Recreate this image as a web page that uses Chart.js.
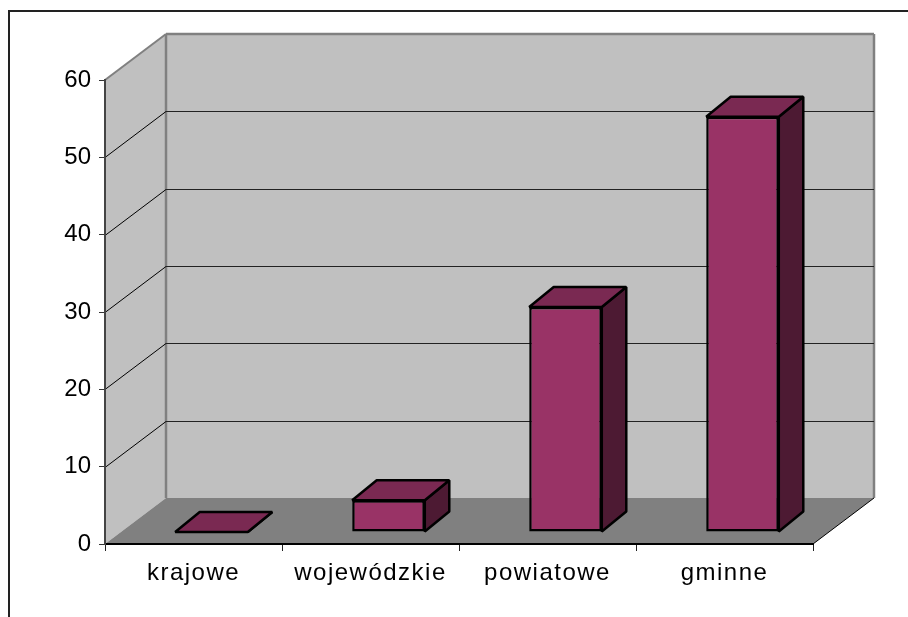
<!DOCTYPE html>
<html>
<head>
<meta charset="utf-8">
<script src="https://cdn.jsdelivr.net/npm/chart.js@4"></script>
<style>
html, body { margin: 0; padding: 0; background: #fff; }
#wrap { width: 908px; height: 617px; position: relative; }
</style>
</head>
<body>
<div id="wrap"><canvas id="barChart"></canvas></div>
<script>
const categories = ['krajowe', 'wojewódzkie', 'powiatowe', 'gminne'];
const values = [0, 4.1, 29.1, 53.7];
const tickLabels = [0, 10, 20, 30, 40, 50, 60];

const wallDepth = { x: 61, y: -46 };
const barShift = { x: 18, y: -12 };
const barDepth = { x: 24.5, y: -20 };

function fillPoly(ctx, pts, fill, stroke, lineWidth) {
    ctx.beginPath();
    ctx.moveTo(pts[0][0], pts[0][1]);
    for (let i = 1; i < pts.length; i++) ctx.lineTo(pts[i][0], pts[i][1]);
    ctx.closePath();
    if (fill) { ctx.fillStyle = fill; ctx.fill(); }
    if (stroke) { ctx.strokeStyle = stroke; ctx.lineWidth = lineWidth; ctx.lineJoin = 'bevel'; ctx.stroke(); }
}

function line(ctx, x1, y1, x2, y2, color, width) {
    ctx.beginPath();
    ctx.moveTo(x1, y1);
    ctx.lineTo(x2, y2);
    ctx.strokeStyle = color;
    ctx.lineWidth = width;
    ctx.stroke();
}

// back wall, side wall, floor and the outer frame
const box3d = {
    id: 'box3d',
    afterLayout(chart) {
        // x labels are spaced out in the original, the y labels are not
        const s = chart.scales.x;
        if (s.spaced) return;
        s.spaced = true;
        const drawLabels = s.drawLabels;
        s.drawLabels = function (area) {
            chart.ctx.save();
            chart.ctx.letterSpacing = '1.5px';
            drawLabels.call(s, area);
            chart.ctx.restore();
        };
    },
    beforeDraw(chart) {
        const ctx = chart.ctx;
        const a = chart.chartArea;
        const y = chart.scales.y;
        const dx = wallDepth.x, dy = wallDepth.y;
        ctx.save();
        ctx.fillStyle = '#ffffff';
        ctx.fillRect(0, 0, chart.width, chart.height);
        ctx.strokeStyle = '#222222';
        ctx.lineWidth = 2;
        ctx.beginPath();
        ctx.moveTo(9, 617);
        ctx.lineTo(9, 11);
        ctx.lineTo(908, 11);
        ctx.stroke();

        fillPoly(ctx, [[a.left, a.top], [a.left + dx, a.top + dy], [a.right + dx, a.top + dy], [a.right + dx, a.bottom + dy], [a.left + dx, a.bottom + dy], [a.left, a.bottom]], '#c0c0c0');
        fillPoly(ctx, [[a.left, a.bottom], [a.right, a.bottom], [a.right + dx, a.bottom + dy], [a.left + dx, a.bottom + dy]], '#808080');

        line(ctx, a.left, a.top, a.left + dx, a.top + dy, '#808080', 2);
        line(ctx, a.left + dx, a.top + dy, a.right + dx, a.top + dy, '#808080', 2.5);
        line(ctx, a.left + dx, a.top + dy, a.left + dx, a.bottom + dy, '#808080', 2.5);
        line(ctx, a.right + dx, a.top + dy, a.right + dx, a.bottom + dy, '#808080', 2.5);

        tickLabels.forEach(function (v) {
            if (v === 0 || v === 60) return;
            const py = Math.round(y.getPixelForValue(v)) + 0.5;
            line(ctx, a.left, py, a.left + dx, py + dy, '#000000', 1);
            line(ctx, a.left + dx, py + dy, a.right + dx, py + dy, '#222222', 1);
        });
        line(ctx, a.right, a.bottom, a.right + dx, a.bottom + dy, '#000000', 1);
        ctx.restore();
    },
    beforeDatasetDraw(chart) {
        const ctx = chart.ctx;
        const meta = chart.getDatasetMeta(0);
        ctx.save();
        ctx.translate(barShift.x, barShift.y);
        meta.data.forEach(function (bar) {
            const p = bar.getProps(['x', 'y', 'base', 'width'], true);
            const l = p.x - p.width / 2, r = p.x + p.width / 2;
            const ox = barDepth.x, oy = barDepth.y;
            fillPoly(ctx, [[r, p.y], [r + ox, p.y + oy], [r + ox, p.base + oy], [r, p.base]], '#4d1a33', '#000000', 2.5);
            fillPoly(ctx, [[l, p.y], [r, p.y], [r + ox, p.y + oy], [l + ox, p.y + oy]], '#7a2952', '#000000', 2.5);
        });
    },
    afterDatasetDraw(chart) {
        chart.ctx.restore();
    }
};

new Chart(document.getElementById('barChart'), {
    type: 'bar',
    plugins: [box3d],
    data: {
        labels: categories,
        datasets: [{
            data: values,
            backgroundColor: '#993366',
            borderColor: '#000000',
            borderWidth: function (c) { return c.raw === 0 ? 0 : 2.5; },
            borderSkipped: false,
            barPercentage: 0.41,
            categoryPercentage: 1
        }]
    },
    options: {
        responsive: true,
        maintainAspectRatio: false,
        animation: false,
        layout: { padding: { left: 0, right: 95, top: 80, bottom: 0 } },
        plugins: { legend: { display: false }, tooltip: { enabled: false } },
        scales: {
            x: {
                afterFit: function (s) { s.height = 73; },
                grid: { drawOnChartArea: false, drawTicks: true, tickLength: 7, color: '#222222' },
                border: { display: true, color: '#000000', width: 2 },
                ticks: { color: '#000000', padding: 8, maxRotation: 0, font: { family: '"Liberation Sans"', size: 24 } }
            },
            y: {
                min: 0,
                max: 60,
                afterFit: function (s) { s.width = 105; },
                afterBuildTicks: function (s) { s.ticks = tickLabels.map(function (v) { return { value: v }; }); },
                grid: { drawOnChartArea: false, drawTicks: true, tickLength: 6, color: '#333333' },
                border: { display: true, color: '#444444', width: 2 },
                ticks: { color: '#000000', padding: 8, font: { family: '"Liberation Sans"', size: 24 } }
            }
        }
    }
});
</script>
</body>
</html>
